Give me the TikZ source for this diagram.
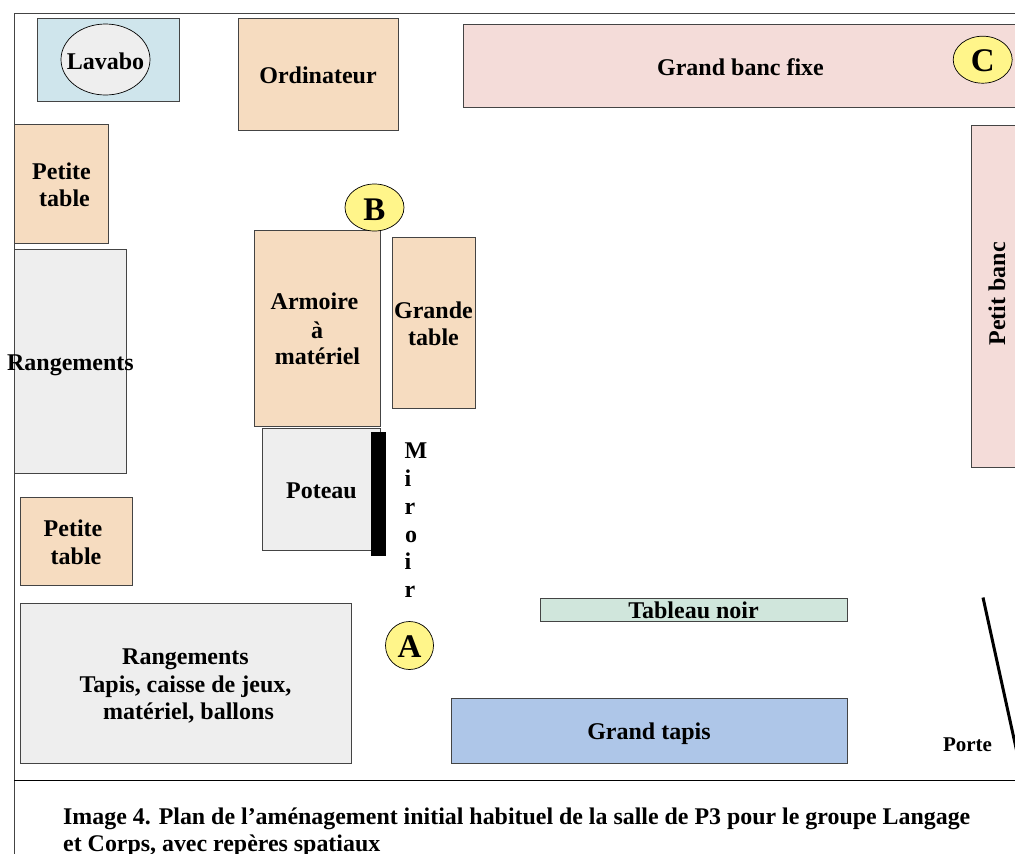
\documentclass[tikz,border=0pt]{standalone}
\usepackage{fontspec}
\setmainfont{Liberation Serif}
\usetikzlibrary{shapes.geometric}
\definecolor{peach}{HTML}{F6DCC0}
\definecolor{greyfill}{HTML}{EEEEEE}
\definecolor{sink}{HTML}{CFE5EC}
\definecolor{benchpink}{HTML}{F4DCD9}
\definecolor{marker}{HTML}{FFF58A}
\definecolor{boardgreen}{HTML}{D0E6DC}
\definecolor{rugblue}{HTML}{AEC6E8}
\definecolor{edgegrey}{HTML}{444444}
\tikzset{
  x=1pt,y=-1pt,
  furn/.style={draw=edgegrey,line width=0.9pt},
  wall/.style={draw=edgegrey,line width=0.9pt},
  lab/.style={font=\fontsize{24}{24}\selectfont\bfseries,inner sep=0pt,anchor=base,yshift=-1pt},
  smalllab/.style={font=\fontsize{21}{21}\selectfont\bfseries,inner sep=0pt,anchor=base,yshift=-1pt},
  captext/.style={font=\fontsize{23.9}{24}\selectfont\bfseries,inner sep=0pt,anchor=base west,yshift=-0.5pt},
  spot/.style={ellipse,draw=black,line width=0.7pt,fill=marker,inner sep=0pt,minimum width=59pt,minimum height=47pt},
  spotlab/.style={font=\fontsize{33}{33}\selectfont\bfseries,inner sep=0pt,anchor=base},
}
\begin{document}
\begin{tikzpicture}
\clip (0,0) rectangle (1015,854);
\fill[white] (0,0) rectangle (1015,854);
% walls
\draw[wall] (14,854) -- (14,13) -- (1015,13);
\draw[black,line width=0.9pt] (14,780.5) -- (1015,780.5);
% furniture
\draw[furn,fill=sink] (37.5,18.5) rectangle (179.5,101);
\node[ellipse,draw=black,line width=0.7pt,fill=greyfill,inner sep=0pt,minimum width=89pt,minimum height=71pt] (lavabo) at (105.5,59.5) {};
\draw[furn,fill=peach] (238.5,18.5) rectangle (398,130.5);
\draw[furn,fill=benchpink] (463,24.5) rectangle (1030,107);
\draw[furn,fill=peach] (14,124.5) rectangle (108.5,243);
\draw[furn,fill=greyfill] (14,249) rectangle (126,473);
\draw[furn,fill=peach] (254.5,230) rectangle (380.5,426);
\draw[furn,fill=peach] (392,237) rectangle (475,408);
\draw[furn,fill=greyfill] (262.5,428.5) rectangle (380,550);
\fill[black] (371,431.5) rectangle (386,556);
\draw[furn,fill=peach] (20,497) rectangle (132,585);
\draw[furn,fill=greyfill] (20,603) rectangle (351,763);
\draw[furn,fill=boardgreen] (540,598) rectangle (847,621);
\draw[furn,fill=rugblue] (451,698) rectangle (847,763);
\draw[furn,fill=benchpink] (971,125) rectangle (1030,467);
\draw[black,line width=3pt] (983,597.5) -- (1018,757);
% markers
\node[spot] (C) at (982.7,59.7) {};
\node[spot] (B) at (374.5,207.5) {};
\node[spot,minimum width=48pt,minimum height=48pt] (A) at (409.5,645.5) {};
\node[spotlab] (tC) at (982.7,71) {C};
\node[spotlab] (tB) at (374.5,220) {B};
\node[spotlab] (tA) at (409.5,657) {A};
% labels
\node[lab] (tlav) at (105.5,68) {Lavabo};
\node[lab] (tord) at (318,82) {Ordinateur};
\node[lab] (tbanc) at (740.5,74) {Grand banc fixe};
\node[lab] (tpt1) at (61.5,178) {Petite};
\node[lab] (tpt2) at (64.5,205) {table};
\node[lab] (tran) at (70.5,369) {Rangements};
\node[lab] (tarm1) at (314.5,308) {Armoire};
\node[lab] (tarm2) at (317,337) {à};
\node[lab] (tarm3) at (317.5,363) {matériel};
\node[lab] (tgr1) at (433.5,317) {Grande};
\node[lab] (tgr2) at (433.5,344) {table};
\node[lab] (tpot) at (321.5,497) {Poteau};
\node[lab] (tm1) at (416,457) {M};
\node[lab] (tm2) at (408,485) {i};
\node[lab] (tm3) at (410,513) {r};
\node[lab] (tm4) at (411,541) {o};
\node[lab] (tm5) at (408,568) {i};
\node[lab] (tm6) at (410,596) {r};
\node[lab] (tpt3) at (73,535) {Petite};
\node[lab] (tpt4) at (76,563) {table};
\node[lab] (tra1) at (185.5,663) {Rangements};
\node[lab] (tra2) at (185.5,691) {Tapis, caisse de jeux,};
\node[lab] (tra3) at (188.5,718) {matériel, ballons};
\node[lab] (ttab) at (693.5,617) {Tableau noir};
\node[lab] (ttap) at (649,738) {Grand tapis};
\node[lab,rotate=90,yshift=0pt,xshift=2pt] (tpb) at (1005,295) {Petit banc};
\node[smalllab] (tporte) at (967.5,750) {Porte};
\node[captext] (cap1) at (63,824) {Image 4. Plan de l’aménagement initial habituel de la salle de P3 pour le groupe Langage};
\node[captext] (cap2) at (63,851) {et Corps, avec repères spatiaux};
\end{tikzpicture}
\end{document}
